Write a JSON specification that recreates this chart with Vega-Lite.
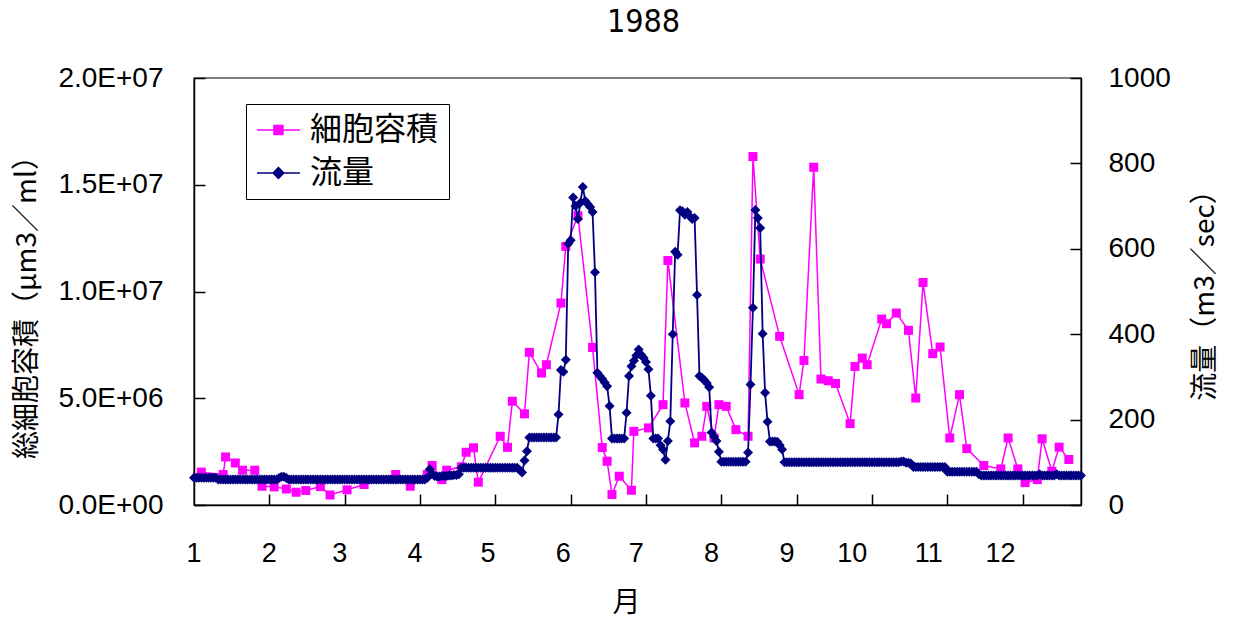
{
"$schema": "https://vega.github.io/schema/vega-lite/v6.json",
"width": 887, "height": 427,
"autosize": "none",
"padding": {"left": 194, "top": 78, "right": 152, "bottom": 117},
"background": "white",
"title": {"text": "1988", "font": "Liberation Sans Narrow, DejaVu Sans Condensed, sans-serif", "fontSize": 32, "fontWeight": "normal", "color": "black", "frame": "group", "anchor": "middle", "baseline": "alphabetic", "offset": 0, "dx": 6},
"config": {
  "view": {"stroke": "#555555", "strokeWidth": 1.5},
  "axis": {"labelFont": "Liberation Sans", "labelFontSize": 28, "labelColor": "black", "titleFont": "Noto Sans CJK JP", "titleFontSize": 28, "titleFontWeight": "normal", "titleColor": "black", "domainColor": "black", "domainWidth": 1.5, "tickColor": "black", "tickWidth": 1.5, "tickSize": -11, "grid": false}
},
"datasets": {
"cell": [
{"d":4,"v":1540000},{"d":13,"v":1430000},{"d":14,"v":2250000},{"d":18,"v":1970000},{"d":21,"v":1630000},{"d":26,"v":1630000},{"d":29,"v":880000},{"d":34,"v":850000},{"d":39,"v":750000},{"d":43,"v":600000},{"d":47,"v":680000},{"d":53,"v":860000},{"d":57,"v":470000},{"d":64,"v":710000},{"d":71,"v":960000},{"d":84,"v":1430000},{"d":90,"v":880000},{"d":97,"v":1430000},{"d":99,"v":1850000},{"d":103,"v":1190000},{"d":105,"v":1630000},{"d":111,"v":1790000},{"d":113,"v":2470000},{"d":116,"v":2680000},{"d":118,"v":1070000},{"d":127,"v":3220000},{"d":130,"v":2700000},{"d":132,"v":4860000},{"d":137,"v":4270000},{"d":139,"v":7150000},{"d":144,"v":6180000},{"d":146,"v":6570000},{"d":152,"v":9460000},{"d":154,"v":12110000},{"d":159,"v":13550000},{"d":165,"v":7380000},{"d":169,"v":2690000},{"d":171,"v":2050000},{"d":173,"v":490000},{"d":176,"v":1350000},{"d":181,"v":690000},{"d":182,"v":3450000},{"d":188,"v":3610000},{"d":194,"v":4700000},{"d":196,"v":11450000},{"d":203,"v":4780000},{"d":207,"v":2910000},{"d":210,"v":3220000},{"d":212,"v":4620000},{"d":215,"v":3140000},{"d":217,"v":4700000},{"d":220,"v":4620000},{"d":224,"v":3530000},{"d":229,"v":3220000},{"d":231,"v":16320000},{"d":234,"v":11520000},{"d":242,"v":7900000},{"d":250,"v":5170000},{"d":252,"v":6770000},{"d":256,"v":15820000},{"d":259,"v":5900000},{"d":262,"v":5820000},{"d":265,"v":5690000},{"d":271,"v":3810000},{"d":273,"v":6490000},{"d":276,"v":6880000},{"d":278,"v":6570000},{"d":284,"v":8710000},{"d":286,"v":8490000},{"d":290,"v":8990000},{"d":295,"v":8180000},{"d":298,"v":5010000},{"d":301,"v":10420000},{"d":305,"v":7090000},{"d":308,"v":7400000},{"d":312,"v":3140000},{"d":316,"v":5170000},{"d":319,"v":2640000},{"d":326,"v":1850000},{"d":333,"v":1690000},{"d":336,"v":3140000},{"d":340,"v":1690000},{"d":343,"v":1050000},{"d":348,"v":1190000},{"d":350,"v":3100000},{"d":354,"v":1580000},{"d":357,"v":2710000},{"d":361,"v":2130000}
],
"flow": [
{"d":1,"q":64},{"d":2,"q":64},{"d":3,"q":64},{"d":4,"q":64},{"d":5,"q":64},{"d":6,"q":64},{"d":7,"q":64},{"d":8,"q":64},{"d":9,"q":64},{"d":10,"q":64},
{"d":11,"q":60},{"d":12,"q":60},{"d":13,"q":60},{"d":14,"q":60},{"d":15,"q":60},{"d":16,"q":60},{"d":17,"q":60},{"d":18,"q":60},{"d":19,"q":60},{"d":20,"q":60},
{"d":21,"q":60},{"d":22,"q":60},{"d":23,"q":60},{"d":24,"q":60},{"d":25,"q":60},{"d":26,"q":60},{"d":27,"q":60},{"d":28,"q":60},{"d":29,"q":60},{"d":30,"q":60},
{"d":31,"q":60},{"d":32,"q":60},{"d":33,"q":60},{"d":34,"q":60},{"d":35,"q":60},{"d":36,"q":63},{"d":37,"q":66},{"d":38,"q":66},{"d":39,"q":63},{"d":40,"q":60},
{"d":41,"q":60},{"d":42,"q":60},{"d":43,"q":60},{"d":44,"q":60},{"d":45,"q":60},{"d":46,"q":60},{"d":47,"q":60},{"d":48,"q":60},{"d":49,"q":60},{"d":50,"q":60},
{"d":51,"q":60},{"d":52,"q":60},{"d":53,"q":60},{"d":54,"q":60},{"d":55,"q":60},{"d":56,"q":60},{"d":57,"q":60},{"d":58,"q":60},{"d":59,"q":60},{"d":60,"q":60},
{"d":61,"q":60},{"d":62,"q":60},{"d":63,"q":60},{"d":64,"q":60},{"d":65,"q":60},{"d":66,"q":60},{"d":67,"q":60},{"d":68,"q":60},{"d":69,"q":60},{"d":70,"q":60},
{"d":71,"q":60},{"d":72,"q":60},{"d":73,"q":60},{"d":74,"q":60},{"d":75,"q":60},{"d":76,"q":60},{"d":77,"q":60},{"d":78,"q":60},{"d":79,"q":60},{"d":80,"q":60},
{"d":81,"q":60},{"d":82,"q":60},{"d":83,"q":60},{"d":84,"q":60},{"d":85,"q":60},{"d":86,"q":60},{"d":87,"q":60},{"d":88,"q":60},{"d":89,"q":60},{"d":90,"q":60},
{"d":91,"q":60},{"d":92,"q":60},{"d":93,"q":60},{"d":94,"q":60},{"d":95,"q":60},{"d":96,"q":60},{"d":97,"q":64},{"d":98,"q":84},{"d":99,"q":74},{"d":100,"q":68},
{"d":101,"q":67},{"d":102,"q":67},{"d":103,"q":68},{"d":104,"q":68},{"d":105,"q":68},{"d":106,"q":69},{"d":107,"q":69},{"d":108,"q":70},{"d":109,"q":70},{"d":110,"q":72},
{"d":111,"q":87},{"d":112,"q":87},{"d":113,"q":87},{"d":114,"q":87},{"d":115,"q":87},{"d":116,"q":87},{"d":117,"q":87},{"d":118,"q":87},{"d":119,"q":87},{"d":120,"q":87},
{"d":121,"q":87},{"d":122,"q":87},{"d":123,"q":87},{"d":124,"q":87},{"d":125,"q":87},{"d":126,"q":87},{"d":127,"q":87},{"d":128,"q":87},{"d":129,"q":87},{"d":130,"q":87},
{"d":131,"q":87},{"d":132,"q":87},{"d":133,"q":87},{"d":134,"q":87},{"d":135,"q":82},{"d":136,"q":76},{"d":137,"q":104},{"d":138,"q":126},{"d":139,"q":158},{"d":140,"q":158},
{"d":141,"q":158},{"d":142,"q":158},{"d":143,"q":158},{"d":144,"q":158},{"d":145,"q":158},{"d":146,"q":158},{"d":147,"q":158},{"d":148,"q":158},{"d":149,"q":158},{"d":150,"q":158},
{"d":151,"q":212},{"d":152,"q":316},{"d":153,"q":312},{"d":154,"q":340},{"d":155,"q":612},{"d":156,"q":620},{"d":157,"q":720},{"d":158,"q":700},{"d":159,"q":670},{"d":160,"q":708},
{"d":161,"q":745},{"d":162,"q":712},{"d":163,"q":705},{"d":164,"q":698},{"d":165,"q":686},{"d":166,"q":545},{"d":167,"q":310},{"d":168,"q":302},{"d":169,"q":295},{"d":170,"q":287},
{"d":171,"q":278},{"d":172,"q":232},{"d":173,"q":156},{"d":174,"q":156},{"d":175,"q":156},{"d":176,"q":156},{"d":177,"q":156},{"d":178,"q":156},{"d":179,"q":216},{"d":180,"q":302},
{"d":181,"q":325},{"d":182,"q":338},{"d":183,"q":350},{"d":184,"q":364},{"d":185,"q":352},{"d":186,"q":345},{"d":187,"q":335},{"d":188,"q":318},{"d":189,"q":256},{"d":190,"q":156},
{"d":191,"q":156},{"d":192,"q":156},{"d":193,"q":140},{"d":194,"q":130},{"d":195,"q":106},{"d":196,"q":150},{"d":197,"q":196},{"d":198,"q":400},{"d":199,"q":593},{"d":200,"q":586},
{"d":201,"q":690},{"d":202,"q":688},{"d":203,"q":680},{"d":204,"q":686},{"d":205,"q":676},{"d":206,"q":670},{"d":207,"q":672},{"d":208,"q":492},{"d":209,"q":302},{"d":210,"q":298},
{"d":211,"q":292},{"d":212,"q":286},{"d":213,"q":276},{"d":214,"q":170},{"d":215,"q":160},{"d":216,"q":150},{"d":217,"q":125},{"d":218,"q":101},{"d":219,"q":101},{"d":220,"q":101},
{"d":221,"q":101},{"d":222,"q":101},{"d":223,"q":101},{"d":224,"q":101},{"d":225,"q":101},{"d":226,"q":101},{"d":227,"q":101},{"d":228,"q":101},{"d":229,"q":123},{"d":230,"q":282},
{"d":231,"q":462},{"d":232,"q":691},{"d":233,"q":672},{"d":234,"q":649},{"d":235,"q":401},{"d":236,"q":263},{"d":237,"q":195},{"d":238,"q":149},{"d":239,"q":149},{"d":240,"q":149},
{"d":241,"q":148},{"d":242,"q":140},{"d":243,"q":130},{"d":244,"q":100},{"d":245,"q":100},{"d":246,"q":100},{"d":247,"q":100},{"d":248,"q":100},{"d":249,"q":100},{"d":250,"q":100},
{"d":251,"q":100},{"d":252,"q":100},{"d":253,"q":100},{"d":254,"q":100},{"d":255,"q":100},{"d":256,"q":100},{"d":257,"q":100},{"d":258,"q":100},{"d":259,"q":100},{"d":260,"q":100},
{"d":261,"q":100},{"d":262,"q":100},{"d":263,"q":100},{"d":264,"q":100},{"d":265,"q":100},{"d":266,"q":100},{"d":267,"q":100},{"d":268,"q":100},{"d":269,"q":100},{"d":270,"q":100},
{"d":271,"q":100},{"d":272,"q":100},{"d":273,"q":100},{"d":274,"q":100},{"d":275,"q":100},{"d":276,"q":100},{"d":277,"q":100},{"d":278,"q":100},{"d":279,"q":100},{"d":280,"q":100},
{"d":281,"q":100},{"d":282,"q":100},{"d":283,"q":100},{"d":284,"q":100},{"d":285,"q":100},{"d":286,"q":100},{"d":287,"q":100},{"d":288,"q":100},{"d":289,"q":100},{"d":290,"q":100},
{"d":291,"q":100},{"d":292,"q":102},{"d":293,"q":102},{"d":294,"q":99},{"d":295,"q":99},{"d":296,"q":97},{"d":297,"q":89},{"d":298,"q":89},{"d":299,"q":89},{"d":300,"q":89},
{"d":301,"q":89},{"d":302,"q":89},{"d":303,"q":89},{"d":304,"q":89},{"d":305,"q":89},{"d":306,"q":89},{"d":307,"q":89},{"d":308,"q":89},{"d":309,"q":89},{"d":310,"q":89},
{"d":311,"q":78},{"d":312,"q":78},{"d":313,"q":78},{"d":314,"q":78},{"d":315,"q":78},{"d":316,"q":78},{"d":317,"q":78},{"d":318,"q":78},{"d":319,"q":78},{"d":320,"q":78},
{"d":321,"q":78},{"d":322,"q":78},{"d":323,"q":78},{"d":324,"q":72},{"d":325,"q":69},{"d":326,"q":69},{"d":327,"q":69},{"d":328,"q":69},{"d":329,"q":69},{"d":330,"q":69},
{"d":331,"q":69},{"d":332,"q":69},{"d":333,"q":69},{"d":334,"q":69},{"d":335,"q":69},{"d":336,"q":69},{"d":337,"q":69},{"d":338,"q":69},{"d":339,"q":69},{"d":340,"q":69},
{"d":341,"q":69},{"d":342,"q":69},{"d":343,"q":69},{"d":344,"q":69},{"d":345,"q":69},{"d":346,"q":69},{"d":347,"q":69},{"d":348,"q":69},{"d":349,"q":72},{"d":350,"q":69},
{"d":351,"q":69},{"d":352,"q":69},{"d":353,"q":69},{"d":354,"q":69},{"d":355,"q":69},{"d":356,"q":72},{"d":357,"q":69},{"d":358,"q":69},{"d":359,"q":69},{"d":360,"q":69},
{"d":361,"q":69},{"d":362,"q":69},{"d":363,"q":69},{"d":364,"q":69},{"d":365,"q":69},{"d":366,"q":69}
]
},
"layer": [
{
  "data": {"name": "cell"},
  "encoding": {
    "x": {"field": "d", "type": "quantitative", "scale": {"domain": [1, 366], "nice": false, "zero": false},
      "axis": {"values": [1,32,61,63,92,94,122,125,153,156,183,187,214,218,245,249,275,280,306,311,336,342],
        "labelExpr": "indexof([1,32,61,92,122,153,183,214,245,275,306,336], datum.value) >= 0 ? '' + (indexof([1,32,61,92,122,153,183,214,245,275,306,336], datum.value) + 1) : ''",
        "tickOpacity": {"condition": {"test": "indexof([32,63,94,125,156,187,218,249,280,311,342], datum.value) >= 0", "value": 1}, "value": 0},
        "labelAlign": "right", "labelOffset": 7, "labelPadding": 46, "labelBaseline": "top", "labelFontSize": 27,
        "labelFlush": false, "labelOverlap": false,
        "title": "月", "titleX": 432, "titleY": 98, "titleBaseline": "middle", "titleAlign": "center"}},
    "y": {"field": "v", "type": "quantitative", "scale": {"domain": [0, 20000000], "nice": false},
      "axis": {"orient": "left", "values": [0, 5000000, 10000000, 15000000, 20000000],
        "labelExpr": "replace(format(datum.value, '.1e'), 'e+', 'E+0')", "labelPadding": 42,
        "title": "総細胞容積（μm3／ml）", "titleX": -167, "titleY": 222, "titleAngle": 270, "titleAlign": "center", "titleBaseline": "middle"}},
    "color": {"datum": "細胞容積", "type": "nominal",
      "scale": {"domain": ["細胞容積", "流量"], "range": ["#FF00FF", "#000080"]},
      "legend": {"orient": "none", "legendX": 52, "legendY": 26, "title": null, "strokeColor": "black", "fillColor": "white",
        "padding": 10, "symbolSize": 900, "labelFontSize": 32, "labelFont": "Noto Sans CJK JP", "labelColor": "black",
        "labelOffset": 22, "rowPadding": 11, "labelLimit": 400,
        "encode": {"symbols": {"update": {
          "shape": {"signal": "datum.value === '流量' ? 'M-1,0H1.87M0.43,-0.36L0.79,0L0.43,0.36L0.07,0Z' : 'M-1,0H1.87M0.13,-0.3H0.73V0.3H0.13Z'"},
          "fill": {"signal": "datum.value === '流量' ? '#000080' : '#FF00FF'"},
          "stroke": {"signal": "datum.value === '流量' ? '#000080' : '#FF00FF'"},
          "strokeWidth": {"value": 1.5}, "opacity": {"value": 1}, "fillOpacity": {"value": 1}, "strokeOpacity": {"value": 1}}}}}}
  },
  "layer": [
    {"mark": {"type": "line", "strokeWidth": 1.5}},
    {"mark": {"type": "point", "shape": "square", "filled": true, "size": 81, "opacity": 1}}
  ]
},
{
  "data": {"name": "flow"},
  "encoding": {
    "x": {"field": "d", "type": "quantitative", "scale": {"domain": [1, 366], "nice": false, "zero": false}},
    "y": {"field": "q", "type": "quantitative", "scale": {"domain": [0, 1000], "nice": false},
      "axis": {"orient": "right", "values": [0, 200, 400, 600, 800, 1000], "format": "d", "labelPadding": 38,
        "title": "流量（m3／sec）", "titleX": 124, "titleY": 210, "titleAngle": 270, "titleAlign": "center", "titleBaseline": "middle"}},
    "color": {"datum": "流量", "type": "nominal"}
  },
  "layer": [
    {"mark": {"type": "line", "strokeWidth": 1.8}},
    {"mark": {"type": "point", "shape": "diamond", "filled": true, "size": 100, "opacity": 1}}
  ]
}
],
"resolve": {"scale": {"y": "independent"}}
}
